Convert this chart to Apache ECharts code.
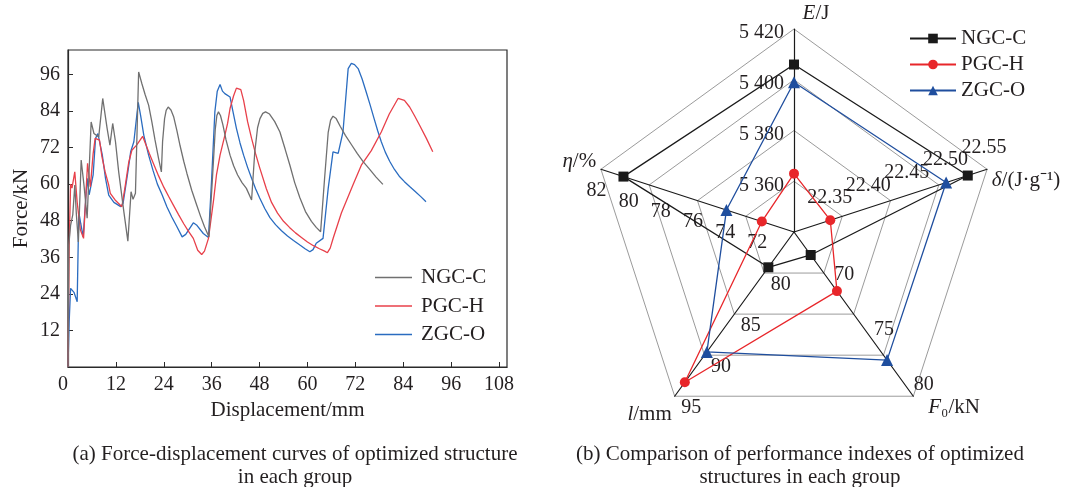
<!DOCTYPE html>
<html><head><meta charset="utf-8">
<script src="https://cdn.jsdelivr.net/npm/echarts@6/dist/echarts.min.js"></script>
<style>html,body{margin:0;padding:0;background:#fff}#c{width:1066px;height:487px}</style>
</head><body><div id="c"></div>
<script>
// ---------- data: (a) force-displacement curves ----------
const seriesNames = ['NGC-C', 'PGC-H', 'ZGC-O'];
const ngcCurve = [[0,0],[0.2,40],[0.65,46.5],[1.2,50],[1.7,59.7],[2.1,50],[2.6,41],[3.3,67.9],[4.0,59.7],[4.8,48.8],[5.8,80.4],[6.5,76.6],[7.7,75.5],[8.7,88.1],[9.8,78.3],[10.5,72.8],[11.2,79.9],[11.9,73.9],[12.7,64],[14,50.9],[15,41.3],[15.8,57.5],[16.3,55],[16.9,57],[17.7,96.8],[18.5,93],[19.3,89.5],[20.2,85.9],[21,80.5],[21.8,74.5],[22.7,68.4],[23.4,64],[23.7,74],[24.2,81.5],[24.6,84.2],[25.1,85.3],[25.8,84.3],[26.5,82],[27.3,77.5],[28.1,72.5],[29,67.5],[29.8,63.5],[31,58],[32.2,53.3],[33.2,49.5],[34.2,46],[35.3,42.7],[36.2,62],[36.9,78],[37.3,82.5],[37.7,83.7],[38.2,82.5],[38.8,79.5],[39.6,74.5],[40.6,69.5],[41.5,66],[42.5,63],[43.6,60.5],[44.7,58.6],[46,54.8],[46.8,70.6],[47.5,78.5],[48.1,81.5],[48.8,83.2],[49.5,83.7],[50.5,83],[51.8,80.5],[53.1,77.1],[54.4,71.5],[55.6,66.2],[56.8,60.5],[58.1,55.5],[59.5,51],[61,47.8],[62.2,45.8],[63.3,44.4],[64.3,62],[65.2,77],[65.8,81],[66.4,82.3],[67.2,81.5],[68.2,79],[69.5,76],[71,73],[72.5,70],[74,67.3],[75.5,65],[77.2,62.3],[78.9,59.9]];
const pgcCurve = [[0,0],[0.3,40],[0.65,60],[1.0,58.7],[1.4,59],[1.7,64],[2.3,54],[3.1,45],[3.9,42.2],[4.9,66.8],[5.6,59.1],[6.3,70],[6.8,75],[7.9,74.4],[8.5,69],[9.3,64],[10.2,59.7],[10.6,57],[11.8,54.8],[13.5,52.6],[14.3,59.1],[15.2,67],[16,71.1],[17.2,72.8],[18.7,75.7],[19.5,73],[20.4,70],[21.4,66.8],[22.7,62.7],[24,59],[25.2,56],[26.4,53.1],[27.7,50],[29,47],[30.2,44.5],[31.4,42.2],[32.5,38.3],[33.5,36.9],[34.2,38],[35.2,42.2],[36.5,55],[37.2,63],[38.1,69.5],[39.3,76],[40,80],[40.6,84.8],[41.5,89],[42.2,91.5],[42.7,91.9],[43.3,91],[44,87.5],[45,80.5],[46,75],[47,70],[48,65.5],[49.7,58.5],[51,54],[52.5,50.5],[54,47.8],[55.5,45.8],[57,44],[58.5,42.5],[60,41],[61.5,39.8],[63,38.8],[64.3,38],[65,37.5],[65.7,39],[66.5,42.5],[67.5,46.5],[68.5,50.5],[69.3,53.1],[71.5,60],[73.5,66.2],[76,71],[78.5,77.1],[80.5,83],[82.7,88.1],[83.1,88.1],[84.3,87.5],[85.6,85.3],[86.8,82.5],[88.1,79.3],[89.8,75],[91.4,70.6]];
const zgcCurve = [[0,0],[0.3,15],[0.65,25.8],[1.5,24.5],[2.3,21.4],[2.7,50.9],[3.2,47],[3.8,42.7],[4.8,61.9],[5.3,56.5],[6.3,63],[6.9,75],[7.5,76.6],[8.6,69.5],[9.4,61.9],[10.2,56.4],[11.5,54],[13.2,52.6],[13.8,53.7],[15.0,64],[15.7,70.6],[16.5,73.9],[17.6,86.8],[18.2,82.5],[19,76],[20.2,69.5],[21.3,64.5],[22.4,60],[23.6,56.4],[24.8,52.5],[26,49.2],[27.3,46],[28.6,42.7],[29.5,43.5],[31.4,47.3],[32.2,46.6],[33.9,43.8],[35.2,42.5],[36,61.9],[36.8,83.7],[37.4,90.5],[38.1,92.7],[38.7,90.5],[39.3,89.7],[40.6,88.6],[41.3,84],[42.2,78.3],[43.1,73.5],[44,69.5],[45,65.5],[46,61.9],[47,58.5],[48,55.5],[49.3,52],[50.6,49],[52,46.7],[53.5,44.7],[55,43],[56.5,41.5],[58.1,40],[59.4,38.8],[60.6,37.8],[61.4,38.5],[62.2,40.6],[63.9,42.2],[65.2,58.6],[66.4,70.6],[67.7,70.1],[68.9,77.1],[70.2,97.9],[71,99.6],[71.8,99.2],[72.7,97.9],[73.7,94.5],[74.7,90.3],[75.7,86],[76.7,81.5],[77.6,77.5],[78.5,73.9],[79.5,70.5],[80.6,67.5],[81.8,64.8],[83,62.6],[84.3,60.8],[85.6,59.2],[87,57.6],[88.4,55.9],[89.7,54.2]];
const xAxisRange = [0, 110, 12];   // min, max, interval
const yAxisRange = [0, 104, 12];

// ---------- data: (b) radar ----------
const radarIndicators = ['E/J', 'η/%', 'l/mm', 'F0/kN', 'δ/(J·g-1)'];
const radarMin = [5340, 70, 75, 65, 22.30];
const radarMax = [5420, 82, 95, 80, 22.55];
const radarSplits = [4, 6, 4, 3, 5];
const ngcRadar = [5406, 80.6, 79.3, 67.1, 22.525];
const pgcRadar = [5363, 72.0, 93.3, 70.4, 22.347];
const zgcRadar = [5399, 74.2, 89.6, 76.7, 22.497];

// ---------- styles ----------
const FONT = 'Liberation Serif';
const TXT = '#231f20';
const lineColors = ['#707070', '#e8404a', '#2a6cc0'];
const radarColors = ['#1a1a1a', '#e8262a', '#1f4e9e'];
const radarSymbols = ['rect', 'circle', 'triangle'];
const radarSymbolSizes = [10, 10, 12];
const CENTER = [794, 232], RADIUS = 203;
// label placement (per-axis label layers)
const labelCenters = [[792, 236], [802, 246], [794, 239], [788, 225], [816, 218]];

const fmtE = v => { const s = String(Math.round(v)); return s.slice(0, s.length - 3) + ' ' + s.slice(-3); };
const fmtInt = v => String(Math.round(v));
const labelFormatters = [fmtE, fmtInt, fmtInt, fmtInt, v => v.toFixed(2)];
const radarNameRich = ['{ie|E}/J', '{hp|η}{hn|/%}', '{lp|l}{ln|/mm}', '{fp|F}{fn|₀/kN}', '{dp|δ}{dn|/(J·g⁻¹)}'];

const nm = (extra) => Object.assign({ fontFamily: FONT, fontSize: 21, color: TXT }, extra);
const radars = [{
  center: CENTER, radius: RADIUS, startAngle: 90, shape: 'polygon', splitNumber: 4,
  indicator: radarIndicators.map((n, i) => ({ name: n, min: radarMin[i], max: radarMax[i] })),
  axisNameGap: 5,
  axisName: {
    formatter: (name) => radarNameRich[radarIndicators.indexOf(name)],
    color: TXT, fontFamily: FONT, fontSize: 21,
    rich: {
      ie: nm({ fontStyle: 'italic', padding: [0, 0, 0, 44] }),
      hp: nm({ fontStyle: 'italic', padding: [0, 0, 12, 0] }),
      hn: nm({ padding: [0, 0, 12, 0] }),
      lp: nm({ fontStyle: 'italic', padding: [28, 0, 0, 0] }),
      ln: nm({ padding: [28, 0, 0, 0] }),
      fp: nm({ fontStyle: 'italic', padding: [15, 0, 0, 12] }),
      fn: nm({ padding: [15, 0, 0, 0] }),
      dp: nm({ fontStyle: 'italic', padding: [26, 0, 0, 0] }),
      dn: nm({ padding: [26, 0, 0, 0] })
    }
  },
  axisLine: { lineStyle: { color: '#1a1a1a', width: 1.2 } },
  splitLine: { lineStyle: { color: '#9b9b9b', width: 1 } },
  splitArea: { show: false },
  axisTick: { show: false },
  axisLabel: { show: false }
}];
// tick-label layers: one per axis and per tick parity (so neighbouring labels are never dropped)
radarIndicators.forEach((n, k) => {
  [0, 1].forEach(parity => {
    const step = (radarMax[k] - radarMin[k]) / radarSplits[k];
    radars.push({
      center: labelCenters[k], radius: RADIUS, startAngle: 90, shape: 'polygon', splitNumber: radarSplits[k],
      indicator: radarIndicators.map((nn, i) => i === k
        ? { name: nn, min: radarMin[i], max: radarMax[i] }
        : { name: nn, min: -10, max: -9 }),
      axisName: { show: false },
      axisLine: { show: false }, splitLine: { show: false }, splitArea: { show: false }, axisTick: { show: false },
      axisLabel: {
        show: true, showMaxLabel: true, showMinLabel: true, hideOverlap: false, margin: 8,
        color: TXT, fontFamily: FONT, fontSize: 20,
        formatter: v => {
          if (v < 0 || v <= radarMin[k] + 1e-9) return '';
          const idx = Math.round((v - radarMin[k]) / step);
          return idx % 2 === parity ? labelFormatters[k](v) : '';
        }
      }
    });
  });
});

const curves = [ngcCurve, pgcCurve, zgcCurve];
const radarValues = [ngcRadar, pgcRadar, zgcRadar];
const radarLegendNames = seriesNames.map(n => n + '\u200b');

const series = curves.map((d, i) => ({
  name: seriesNames[i], type: 'line', data: d, symbol: 'none', smooth: false,
  lineStyle: { color: lineColors[i], width: 1.3 }, itemStyle: { color: lineColors[i] }, z: 5 - i
}));
// legend entries for radar (line + marker icons)
radarLegendNames.forEach((n, i) => series.push({
  name: n, type: 'line', data: [], symbol: radarSymbols[i], symbolSize: radarSymbolSizes[i],
  lineStyle: { color: radarColors[i], width: 1.3 }, itemStyle: { color: radarColors[i] }
}));
series.push({
  type: 'radar', radarIndex: 0,
  data: radarValues.map((v, i) => ({
    name: seriesNames[i], value: v, symbol: radarSymbols[i], symbolSize: radarSymbolSizes[i],
    lineStyle: { color: radarColors[i], width: 1.3 }, itemStyle: { color: radarColors[i] }
  }))
});

const capStyle = { fontFamily: FONT, fontSize: 21, fontWeight: 'normal', color: TXT, lineHeight: 23 };
const option = {
  animation: false,
  backgroundColor: '#fff',
  title: [
    { text: '(a) Force-displacement curves of optimized structure\nin each group', left: 290, top: 438, textAlign: 'center', textStyle: capStyle },
    { text: '(b) Comparison of performance indexes of optimized\nstructures in each group', left: 795, top: 438, textAlign: 'center', textStyle: capStyle }
  ],
  legend: [
    { data: seriesNames, orient: 'vertical', left: 370, top: 262, icon: 'rect', itemWidth: 37, itemHeight: 1.6, itemGap: 7.5,
      textStyle: { fontFamily: FONT, fontSize: 21, color: TXT, lineHeight: 20, padding: [0, 0, 0, 4] } },
    { data: radarLegendNames, orient: 'vertical', left: 904, top: 23, itemWidth: 46, itemHeight: 12, itemGap: 5,
      formatter: n => n.replace('\u200b', ''),
      textStyle: { fontFamily: FONT, fontSize: 21, color: TXT, lineHeight: 20 } }
  ],
  grid: { left: 68, top: 50, width: 439, height: 317, show: true, borderColor: '#2a2a2a', borderWidth: 1.2, containLabel: false },
  xAxis: {
    type: 'value', min: xAxisRange[0], max: xAxisRange[1], interval: xAxisRange[2],
    name: 'Displacement/mm', nameLocation: 'middle', nameGap: 32,
    nameTextStyle: { fontFamily: FONT, fontSize: 21, color: TXT },
    axisLine: { onZero: false, lineStyle: { color: '#2a2a2a', width: 1.2 } },
    axisTick: { inside: true, length: 5, lineStyle: { color: '#2a2a2a' } },
    axisLabel: { showMaxLabel: false, alignMinLabel: 'right', margin: 8, fontFamily: FONT, fontSize: 20, color: TXT },
    splitLine: { show: false }
  },
  yAxis: {
    type: 'value', min: yAxisRange[0], max: yAxisRange[1], interval: yAxisRange[2],
    name: 'Force/kN', nameLocation: 'middle', nameGap: 36,
    nameTextStyle: { fontFamily: FONT, fontSize: 21, color: TXT },
    axisLine: { onZero: false, lineStyle: { color: '#2a2a2a', width: 1.2 } },
    axisTick: { inside: true, length: 5, lineStyle: { color: '#2a2a2a' } },
    axisLabel: { showMinLabel: false, showMaxLabel: false, margin: 8, fontFamily: FONT, fontSize: 20, color: TXT },
    splitLine: { show: false }
  },
  radar: radars,
  series: series
};
const chart = echarts.init(document.getElementById('c'), null, { renderer: 'canvas' });
chart.setOption(option);
</script></body></html>
